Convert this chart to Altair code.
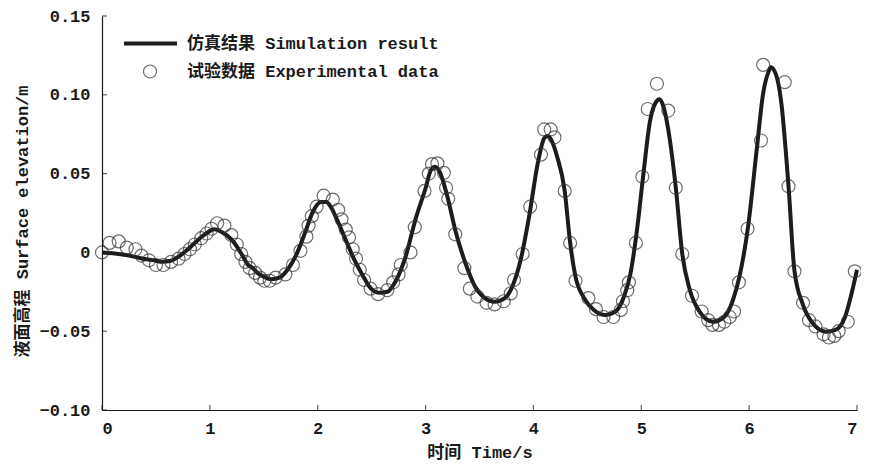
import altair as alt
import pandas as pd

# Simulation result
sim_t = [0.00, 0.10, 0.22, 0.35, 0.50, 0.56, 0.63, 0.71, 0.78, 0.84, 0.90, 0.96, 1.04, 1.11,
         1.205, 1.30, 1.355, 1.39, 1.45, 1.50, 1.57, 1.645, 1.72, 1.80, 1.88, 1.955, 2.03,
         2.08, 2.12, 2.18, 2.26, 2.34, 2.415, 2.48, 2.57, 2.645, 2.72, 2.815, 2.905, 3.00,
         3.05, 3.09, 3.13, 3.21, 3.275, 3.37, 3.46, 3.55, 3.64, 3.735, 3.81, 3.885, 3.965,
         4.04, 4.10, 4.13, 4.16, 4.22, 4.29, 4.34, 4.39, 4.47, 4.56, 4.67, 4.76, 4.84, 4.90,
         4.96, 5.02, 5.08, 5.13, 5.17, 5.21, 5.25, 5.32, 5.38, 5.45, 5.54, 5.665, 5.77, 5.85,
         5.91, 5.99, 6.07, 6.13, 6.18, 6.20, 6.25, 6.295, 6.365, 6.42, 6.50, 6.59, 6.71, 6.80,
         6.89, 6.95, 7.00]
sim_v = [0.000, -0.0005, -0.0017, -0.0035, -0.0053, -0.006, -0.0055, -0.0027, 0.001, 0.0047,
         0.0085, 0.0117, 0.0147, 0.013, 0.0079, -0.0017, -0.008, -0.0095, -0.0135, -0.0154,
         -0.017, -0.016, -0.011, -0.0017, 0.012, 0.0258, 0.032, 0.032, 0.029, 0.0206, 0.0079,
         -0.0048, -0.0143, -0.0218, -0.0256, -0.025, -0.0186, -0.0027, 0.0206, 0.0407, 0.0523,
         0.0544, 0.0512, 0.0333, 0.0142, -0.0069, -0.0218, -0.029, -0.0313, -0.029, -0.0207,
         -0.0037, 0.0248, 0.0565, 0.0724, 0.0738, 0.072, 0.0607, 0.039, 0.0064, -0.0154,
         -0.029, -0.0365, -0.0397, -0.0376, -0.028, -0.0133, 0.0142, 0.050, 0.083, 0.0946,
         0.0971, 0.0914, 0.078, 0.041, -0.001, -0.0239, -0.0376, -0.044, -0.0408, -0.0302,
         -0.0154, 0.0163, 0.065, 0.101, 0.1147, 0.1175, 0.1126, 0.0967, 0.042, -0.0116,
         -0.0334, -0.045, -0.0503, -0.0492, -0.0408, -0.026, -0.011]

# Experimental data (read from the circles)
exp_t = [0.00, 0.07, 0.155, 0.23, 0.31, 0.365, 0.435, 0.50, 0.57, 0.64, 0.71, 0.765, 0.815,
         0.86, 0.92, 0.97, 1.015, 1.067, 1.135, 1.20, 1.25, 1.29, 1.33, 1.37, 1.42, 1.465,
         1.505, 1.555, 1.61, 1.70, 1.77, 1.84, 1.895, 1.915, 1.945, 1.99, 2.055, 2.14, 2.19,
         2.22, 2.26, 2.29, 2.325, 2.355, 2.39, 2.43, 2.49, 2.56, 2.645, 2.70, 2.75, 2.77,
         2.86, 2.90, 2.99, 3.03, 3.06, 3.11, 3.17, 3.19, 3.21, 3.275, 3.36, 3.41, 3.48,
         3.565, 3.64, 3.725, 3.79, 3.82, 3.90, 3.97, 4.07, 4.10, 4.16, 4.195, 4.29, 4.34,
         4.39, 4.51, 4.58, 4.65, 4.74, 4.81, 4.83, 4.87, 4.885, 4.95, 5.01, 5.06, 5.145,
         5.25, 5.32, 5.38, 5.47, 5.56, 5.62, 5.66, 5.72, 5.77, 5.82, 5.86, 5.905, 5.985,
         6.11, 6.13, 6.33, 6.365, 6.42, 6.50, 6.555, 6.615, 6.69, 6.74, 6.79, 6.83, 6.915,
         6.98]
exp_v = [0.000, 0.006, 0.007, 0.003, 0.002, -0.002, -0.005, -0.008, -0.008, -0.006, -0.004,
         -0.001, 0.002, 0.005, 0.009, 0.012, 0.015, 0.0185, 0.017, 0.011, 0.005, -0.001,
         -0.006, -0.010, -0.013, -0.016, -0.018, -0.018, -0.016, -0.014, -0.008, 0.001,
         0.010, 0.017, 0.023, 0.029, 0.036, 0.0335, 0.027, 0.021, 0.0145, 0.0095, 0.002,
         -0.004, -0.011, -0.0175, -0.023, -0.0265, -0.024, -0.019, -0.014, -0.008, 0.000,
         0.016, 0.039, 0.050, 0.056, 0.0565, 0.0505, 0.041, 0.034, 0.0115, -0.010, -0.023,
         -0.028, -0.032, -0.033, -0.031, -0.026, -0.0175, -0.001, 0.029, 0.062, 0.078, 0.078,
         0.073, 0.039, 0.006, -0.018, -0.029, -0.036, -0.041, -0.041, -0.0365, -0.031, -0.024,
         -0.019, 0.006, 0.048, 0.091, 0.107, 0.090, 0.041, -0.001, -0.0275, -0.0375, -0.043,
         -0.046, -0.046, -0.044, -0.041, -0.0375, -0.019, 0.015, 0.071, 0.119, 0.108, 0.042,
         -0.012, -0.032, -0.043, -0.047, -0.052, -0.054, -0.053, -0.050, -0.044, -0.012]

sim_label = "仿真结果 Simulation result"
exp_label = "试验数据 Experimental data"
x_ticks = [0, 1, 2, 3, 4, 5, 6, 7]
y_ticks = [-0.10, -0.05, 0.0, 0.05, 0.10, 0.15]
x_min, y_min = 0, -0.10

FONT = "Liberation Mono, Noto Sans CJK SC"
W, H = 755, 394
INK = "#1a1a1a"

sim_df = pd.DataFrame({"t": sim_t, "v": sim_v, "sim": sim_label})
exp_df = pd.DataFrame({"t": exp_t, "v": exp_v, "exp": exp_label})
xt_df = pd.DataFrame({"t": x_ticks, "v": [y_min] * len(x_ticks)})
yt_df = pd.DataFrame({"t": [x_min] * len(y_ticks), "v": y_ticks})

x_scale = alt.Scale(domain=[0, 7], nice=False, zero=False)
y_scale = alt.Scale(domain=[-0.10, 0.15], nice=False, zero=False)

x_enc = alt.X("t:Q", scale=x_scale,
              axis=alt.Axis(values=x_ticks, format="d", title="时间 Time/s", ticks=False,
                            labelPadding=10, titleY=42, titleBaseline="middle"))
y_enc = alt.Y("v:Q", scale=y_scale,
              axis=alt.Axis(values=y_ticks, ticks=False, labelPadding=12,
                            labelExpr="datum.value == 0 ? '0' : format(datum.value, '.2f')",
                            title="液面高程 Surface elevation/m",
                            titleAngle=270, titleX=-80, titleY=205,
                            titleBaseline="middle"))

line = alt.Chart(sim_df).mark_line(strokeWidth=4, interpolate="monotone").encode(
    x=x_enc, y=y_enc,
    color=alt.Color("sim:N", scale=alt.Scale(domain=[sim_label], range=["#1c1c1c"]),
                    legend=alt.Legend(title=None, orient="none", legendX=20, legendY=-1,
                                      symbolType="stroke", symbolSize=2809,
                                      symbolStrokeWidth=4, labelOffset=8, padding=0,
                                      labelLimit=0)),
)

pts = alt.Chart(exp_df).mark_point(shape="circle", filled=False, size=169,
                                   strokeWidth=1.2, color="#303030").encode(
    x="t:Q", y="v:Q",
    shape=alt.Shape("exp:N", scale=alt.Scale(domain=[exp_label], range=["circle"]),
                    legend=alt.Legend(title=None, orient="none", legendX=39.5, legendY=47,
                                      symbolSize=169, symbolStrokeWidth=1.2,
                                      symbolStrokeColor="#303030",
                                      symbolFillColor="transparent",
                                      labelOffset=28.5, padding=0, labelLimit=0)),
)

# inward-pointing tick marks on the two axes
xticks = alt.Chart(xt_df).mark_tick(orient="vertical", size=5, thickness=1.2,
                                    yOffset=-2.5, color=INK).encode(x="t:Q", y="v:Q")
yticks = alt.Chart(yt_df).mark_tick(orient="horizontal", size=5, thickness=1.2,
                                    xOffset=2.5, color=INK).encode(x="t:Q", y="v:Q")

chart = alt.layer(line, pts, xticks, yticks).resolve_legend(
    color="independent", shape="independent"
).properties(
    width=W, height=H,
    autosize=alt.AutoSizeParams(type="none"),
    padding={"left": 94, "top": 8, "right": 4, "bottom": 51},
).configure_view(stroke=None).configure_axis(
    labelFont=FONT, titleFont=FONT, labelFontSize=17, titleFontSize=17,
    labelFontWeight="bold", titleFontWeight="bold",
    labelColor=INK, titleColor=INK,
    domainColor=INK, domainWidth=1.2,
    grid=False,
).configure_legend(
    labelFont=FONT, labelFontSize=17, labelFontWeight="bold", labelColor=INK,
)

chart.save("out.html", embed_options={"renderer": "svg", "actions": False})
